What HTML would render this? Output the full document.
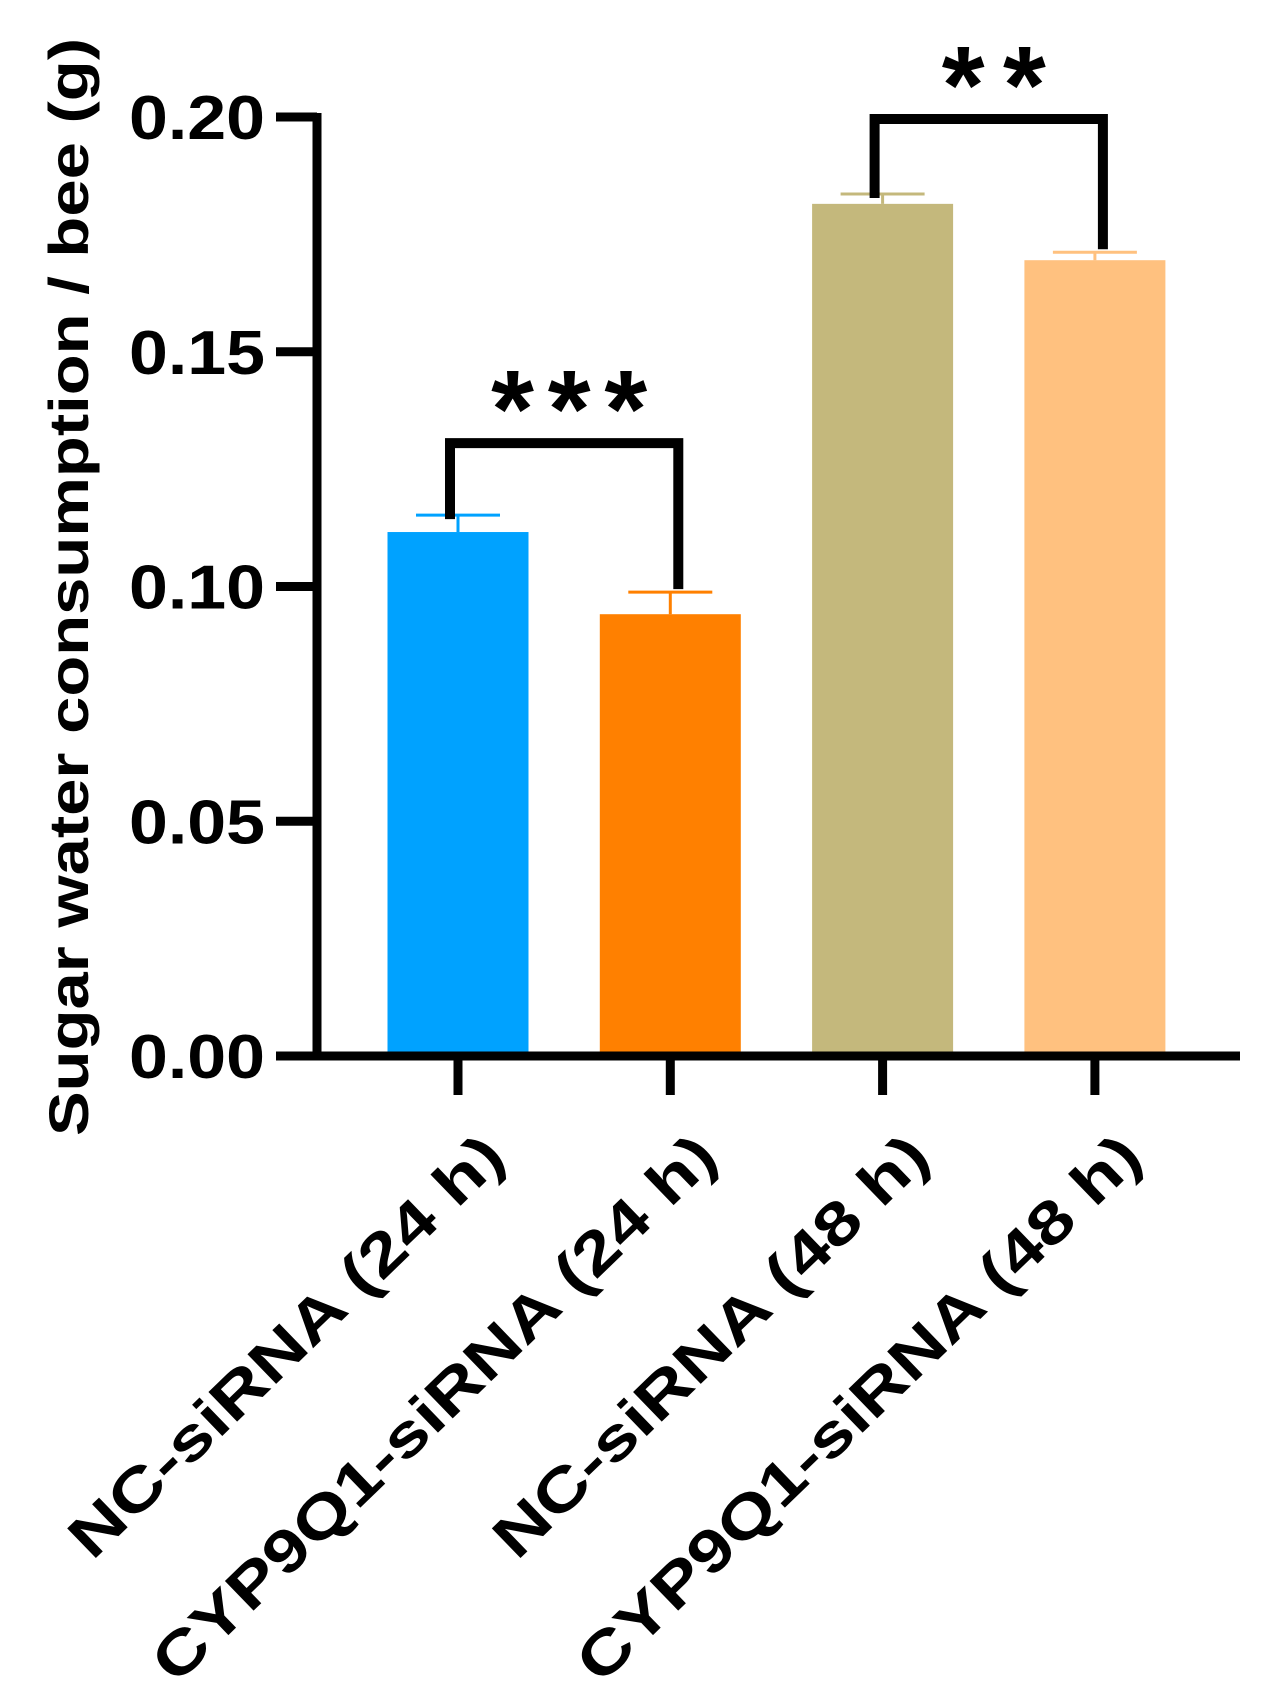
<!DOCTYPE html>
<html><head><meta charset="utf-8"><style>
body{margin:0;background:#fff}
svg{display:block;font-family:"Liberation Sans",Arial,sans-serif;font-weight:bold}
</style></head><body>
<svg id="chart" width="1277" height="1706" viewBox="0 0 1277 1706" xmlns="http://www.w3.org/2000/svg">
<g id="g"></g>
</svg>
<script>
const categories = ["NC-siRNA (24 h)", "CYP9Q1-siRNA (24 h)", "NC-siRNA (48 h)", "CYP9Q1-siRNA (48 h)"];
const means = [0.1116, 0.0941, 0.1815, 0.1695];
const errors = [0.0036, 0.0047, 0.0021, 0.0017];
const colors = ["#00a2ff", "#ff8000", "#c4b87c", "#ffc17f"];
const yTicks = [0, 0.05, 0.10, 0.15, 0.20];
const yTickLabels = ["0.00", "0.05", "0.10", "0.15", "0.20"];
const sigPairs = [[0, 1], [2, 3]];
const sigLabels = ["***", "**"];

const NS = "http://www.w3.org/2000/svg";
const g = document.getElementById("g");
const y0 = 1056, yTop = 117, yMax = 0.20;
const y = v => y0 - (v / yMax) * (y0 - yTop);
const xc = i => 458 + i * 212.3;
const barW = 141;
function el(tag, attrs, parent) {
  const e = document.createElementNS(NS, tag);
  for (const k in attrs) e.setAttribute(k, attrs[k]);
  (parent || g).appendChild(e);
  return e;
}
categories.forEach((c, i) => {
  const b = el("rect", {x: xc(i) - barW / 2, y: y(means[i]), width: barW, height: y0 - y(means[i]), fill: colors[i]});
  
  
  const top = y(means[i] + errors[i]);
  const eb = el("path", {d: `M${xc(i)} ${y(means[i])} V${top} M${xc(i) - 42} ${top} H${xc(i) + 42}`, stroke: colors[i], "stroke-width": 3, fill: "none"});
  
  
});
const ya = el("line", {x1: 317, y1: yTop - 4, x2: 317, y2: y0 + 4, stroke: "#000", "stroke-width": 9});


const xa = el("line", {x1: 276, y1: y0, x2: 1240, y2: y0, stroke: "#000", "stroke-width": 9});


yTicks.forEach((t, i) => {
  const tk = el("line", {x1: 276, y1: y(t), x2: 317, y2: y(t), stroke: "#000", "stroke-width": 9});
  
  
  const tl = el("text", {x: 265, y: y(t) + 22, "text-anchor": "end", "font-size": 62, textLength: 136, lengthAdjust: "spacingAndGlyphs"});
  tl.textContent = yTickLabels[i];
  
  
});
categories.forEach((c, i) => {
  const tk = el("line", {x1: xc(i), y1: y0, x2: xc(i), y2: 1095, stroke: "#000", "stroke-width": 9});
  
  
  const bx = xc(i) + 50, by = 1160;
  const len = c.startsWith("CYP") ? 757 : 578;
  const t = el("text", {x: bx, y: by, "text-anchor": "end", "font-size": 60, transform: `rotate(-44 ${bx} ${by})`, textLength: len, lengthAdjust: "spacingAndGlyphs"});
  
  
  t.textContent = c;
});
sigPairs.forEach((p, k) => {
  const a = p[0], b = p[1];
  const hi = Math.max(means[a] + errors[a], means[b] + errors[b]);
  const top = y(hi) - (k === 0 ? 72 : 75);
  const br = el("path", {d: `M${xc(a) - 8} ${y(means[a] + errors[a]) + 4} V${top} H${xc(b) + 8} V${y(means[b] + errors[b]) - 3}`, stroke: "#000", "stroke-width": 10, fill: "none"});
  
  
  const mid = (xc(a) + xc(b)) / 2 + 5;
  const n = sigLabels[k].length;
  const st = el("text", {x: mid, y: top + 4, "text-anchor": "middle", "font-size": 110, textLength: n * 52, lengthAdjust: "spacing"});
  st.textContent = sigLabels[k];
  
  
});
const yt = el("text", {x: 0, y: 0, "text-anchor": "middle", "font-size": 56, transform: "translate(88 587) rotate(-90)", textLength: 1098, lengthAdjust: "spacingAndGlyphs"});
yt.textContent = "Sugar water consumption / bee (g)";


</script>
</body></html>
